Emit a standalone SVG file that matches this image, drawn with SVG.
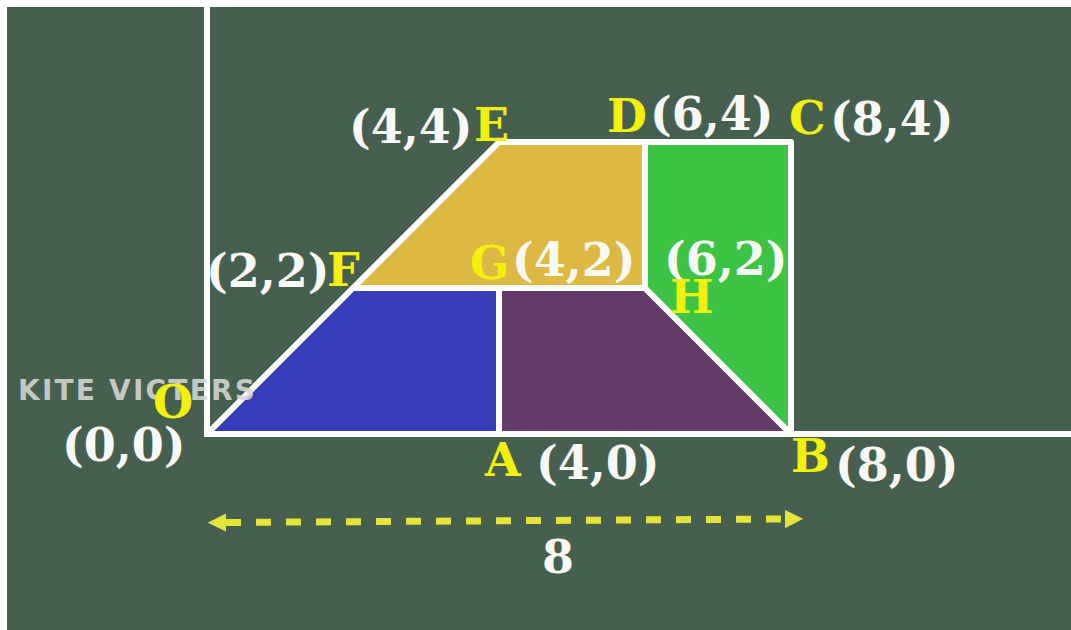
<svg xmlns="http://www.w3.org/2000/svg" width="1071" height="630" viewBox="0 0 1071 630">
<defs>
<style>
.lbl{font-family:"DejaVu Serif","Liberation Serif",serif;font-weight:bold;font-size:46px;fill:#f8f8f4}
.ltr{fill:#f2f00c}
.shape{stroke:#ffffff;stroke-width:6;stroke-linejoin:round}
.axis{stroke:#ffffff;stroke-width:6;fill:none}
.wm{font-family:"DejaVu Sans","Liberation Sans",sans-serif;font-weight:bold;font-size:28px;fill:#d4d8d4;fill-opacity:0.9;letter-spacing:2.2px}
</style>
<marker id="ah" markerWidth="2.6" markerHeight="2.6" refX="0" refY="1.3" orient="auto-start-reverse" markerUnits="strokeWidth" viewBox="0 0 2.6 2.6">
<path d="M0,0 L2.6,1.3 L0,2.6 Z" fill="#e4e43a"/>
</marker>
</defs>
<rect x="0" y="0" width="1071" height="630" fill="#ffffff"/>
<rect x="7" y="7" width="1064" height="623" fill="#45604e"/>

<g id="axes">
<line class="axis" x1="207" y1="7" x2="207" y2="434"/>
<line class="axis" x1="204" y1="434" x2="1071" y2="434"/>
</g>

<g id="region-blue"><polygon class="shape" points="207,434 353,288 499,288 499,434" fill="#353eb6"/></g>
<g id="region-purple"><polygon class="shape" points="499,434 499,288 645,288 791,434" fill="#633a6a"/></g>
<g id="region-yellow"><polygon class="shape" points="353,288 499,142 645,142 645,288" fill="#ddb843"/></g>
<g id="region-green"><polygon class="shape" points="645,142 791,142 791,434 645,288" fill="#3ec444"/></g>

<text class="wm" x="18" y="400">KITE VICTERS</text>

<g id="connectors">
<line x1="226" y1="522.5" x2="785" y2="519" stroke="#e4e43a" stroke-width="7" stroke-dasharray="15 15" marker-start="url(#ah)" marker-end="url(#ah)"/>
</g>

<g id="label-E"><text class="lbl" x="349" y="143">(4,4)</text><text class="lbl ltr" x="474" y="141">E</text></g>
<g id="label-D"><text class="lbl ltr" x="607" y="132">D</text><text class="lbl" x="650" y="130">(6,4)</text></g>
<g id="label-C"><text class="lbl ltr" x="789" y="134">C</text><text class="lbl" x="830" y="135">(8,4)</text></g>
<g id="label-F"><text class="lbl" x="206" y="287">(2,2)</text><text class="lbl ltr" x="327" y="286">F</text></g>
<g id="label-G"><text class="lbl ltr" x="470" y="279">G</text><text class="lbl" x="512" y="276">(4,2)</text></g>
<g id="label-H"><text class="lbl" x="664" y="275">(6,2)</text><text class="lbl ltr" x="670" y="313">H</text></g>
<g id="label-O"><text class="lbl ltr" x="153" y="418">O</text><text class="lbl" x="62" y="461">(0,0)</text></g>
<g id="label-A"><text class="lbl ltr" x="485" y="476">A</text><text class="lbl" x="536" y="479">(4,0)</text></g>
<g id="label-B"><text class="lbl ltr" x="791" y="472">B</text><text class="lbl" x="835" y="481">(8,0)</text></g>
<g id="label-8"><text class="lbl" x="542" y="573">8</text></g>
</svg>
